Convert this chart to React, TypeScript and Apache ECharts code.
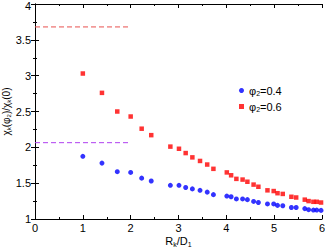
import React, { useEffect, useRef } from "react";
import * as echarts from "echarts";

const xVals = [1.0, 1.4, 1.72, 2.0, 2.23, 2.43, 2.83, 3.01, 3.15, 3.29, 3.45, 3.6, 3.73, 4.01, 4.1, 4.21, 4.34, 4.44, 4.57, 4.67, 4.86, 4.99, 5.07, 5.18, 5.36, 5.46, 5.64, 5.72, 5.82, 5.89, 5.98];
const phi04 = [1.875, 1.78, 1.66, 1.65, 1.57, 1.53, 1.47, 1.47, 1.44, 1.42, 1.4, 1.375, 1.34, 1.32, 1.31, 1.28, 1.28, 1.27, 1.245, 1.23, 1.21, 1.21, 1.19, 1.185, 1.16, 1.16, 1.145, 1.13, 1.125, 1.125, 1.12];
const phi06 = [3.03, 2.76, 2.5, 2.43, 2.26, 2.17, 2.01, 1.98, 1.92, 1.86, 1.81, 1.76, 1.7, 1.65, 1.61, 1.56, 1.55, 1.52, 1.48, 1.45, 1.4, 1.39, 1.36, 1.35, 1.31, 1.3, 1.27, 1.25, 1.24, 1.24, 1.23];
const redLimit = 3.68;
const purpleLimit = 2.065;
const limitX = [0, 2];
const seriesNames = ["φ{s|2}=0.4", "φ{s|2}=0.6"];
const yMax = 4;

export default function App() {
  const ref = useRef<HTMLDivElement>(null);
  useEffect(() => {
    if (!ref.current) return;
    const chart = echarts.init(ref.current, null, { renderer: "svg" });
    const font = "Liberation Sans, Arial, sans-serif";
    const axisCommon = {
      axisLine: { show: true, lineStyle: { color: "#000", width: 1 } },
      axisTick: { show: true, inside: true, length: 4, lineStyle: { color: "#000" } },
      minorTick: { show: true, splitNumber: 2, length: 2, lineStyle: { color: "#000" } },
      splitLine: { show: false },
    };
    chart.setOption({
      animation: false,
      textStyle: { fontFamily: font },
      grid: { left: 35, right: 3, top: 4, bottom: 29, outerBoundsMode: "none", containLabel: false },
      legend: {
        orient: "vertical",
        left: 234,
        top: 80,
        itemWidth: 5,
        itemHeight: 5,
        itemGap: 4,
        textStyle: { fontSize: 11, color: "#000", fontFamily: font, rich: { s: { fontSize: 7, padding: [6, 0, 0, 0] } } },
        data: [
          { name: seriesNames[0], icon: "circle" },
          { name: seriesNames[1], icon: "rect" },
        ],
      },
      xAxis: [
        {
          ...axisCommon,
          type: "value",
          min: 0,
          max: 6,
          interval: 1,
          name: "R{s|k}/D{s|1}",
          nameLocation: "middle",
          nameGap: 15,
          nameMoveOverlap: false,
          nameTextStyle: { fontSize: 11, color: "#000", fontFamily: font, rich: { s: { fontSize: 7, padding: [7, 0, 0, 0] } } },
          axisLabel: { fontSize: 11, color: "#000", margin: 3 },
        },
        {
          ...axisCommon,
          type: "value",
          position: "top",
          min: 0,
          max: 6,
          interval: 1,
          axisLabel: { show: false },
        },
      ],
      yAxis: [
        {
          ...axisCommon,
          type: "value",
          min: 1,
          max: yMax,
          interval: 0.5,
          name: "χ{s|k}(φ{s|2})/χ{s|k}(0)",
          nameLocation: "middle",
          nameGap: 23,
          nameMoveOverlap: false,
          nameTextStyle: { fontSize: 10, lineHeight: 11, color: "#000", fontFamily: font, rich: { s: { fontSize: 6, lineHeight: 11, verticalAlign: "bottom" } } },
          axisLabel: {
            fontSize: 11,
            lineHeight: 8,
            color: "#000",
            margin: 4,
            formatter: (v: number) => (v === yMax ? "{t|" + v + "}" : String(v)),
            rich: { t: { fontSize: 11, lineHeight: 8, color: "#000", padding: [4, 0, 0, 0] } },
          },
        },
        {
          ...axisCommon,
          type: "value",
          position: "right",
          min: 1,
          max: yMax,
          interval: 0.5,
          axisLabel: { show: false },
        },
      ],
      series: [
        {
          name: seriesNames[0],
          type: "scatter",
          symbol: "circle",
          symbolSize: 5,
          itemStyle: { color: "#0000ff" },
          data: xVals.map((x, i) => [x, phi04[i]]),
        },
        {
          name: seriesNames[1],
          type: "scatter",
          symbol: "rect",
          symbolSize: 4.5,
          itemStyle: { color: "#ff0000" },
          data: xVals.map((x, i) => [x, phi06[i]]),
        },
        {
          type: "line",
          symbol: "none",
          itemStyle: { color: "#e8504f" },
          lineStyle: { color: "#e8504f", width: 1, type: [5, 3] },
          data: limitX.map((x) => [x, redLimit]),
        },
        {
          type: "line",
          symbol: "none",
          itemStyle: { color: "#b03ff0" },
          lineStyle: { color: "#b03ff0", width: 1, type: [5, 3] },
          data: limitX.map((x) => [x, purpleLimit]),
        },
      ],
    });
    return () => chart.dispose();
  }, []);
  return <div ref={ref} style={{ width: 325, height: 248, position: "absolute", left: 0, top: 0 }} />;
}
